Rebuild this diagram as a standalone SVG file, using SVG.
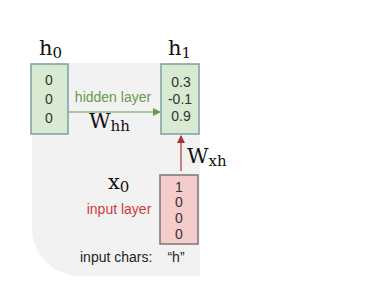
<svg xmlns="http://www.w3.org/2000/svg" width="384" height="294" viewBox="0 0 384 294">
<style>
.sans{font-family:"Liberation Sans",Arial,sans-serif;}
.num{font-family:"Liberation Sans",Arial,sans-serif;font-size:14px;fill:#333;text-anchor:middle;}
.green{fill:#d9ead3;stroke:#7c9ea6;stroke-width:1.5;}
.red{fill:#f4cccc;stroke:#777;stroke-width:1.5;}
.lbl{font-family:"DejaVu Serif","Liberation Serif",serif;font-size:21px;fill:#111;}
</style>
<defs>
<marker id="ag" markerWidth="8" markerHeight="8" refX="7" refY="4" orient="auto" markerUnits="userSpaceOnUse"><path d="M0,0 L8,4 L0,8 Z" fill="#6a9a4a"/></marker>
<marker id="ar" markerWidth="8" markerHeight="8" refX="7" refY="4" orient="auto" markerUnits="userSpaceOnUse"><path d="M0,0 L8,4 L0,8 Z" fill="#a33"/></marker>
</defs>
<path d="M32,63 H200 V276 H80 A48,48 0 0 1 32,228 Z" fill="#f2f2f2"/>
<g id="h0">
<rect class="green" x="31" y="64" width="37" height="70"/>
<text class="num" x="49" y="85">0</text>
<text class="num" x="49" y="104">0</text>
<text class="num" x="49" y="123">0</text>
<text class="lbl" x="39" y="55">h<tspan font-size="15" dy="3">0</tspan></text>
</g>
<g id="h1">
<rect class="green" x="161" y="64" width="38" height="70"/>
<text class="num" x="181" y="87">0.3</text>
<text class="num" x="180" y="104">-0.1</text>
<text class="num" x="181" y="121">0.9</text>
<text class="lbl" x="168" y="55">h<tspan font-size="15" dy="3">1</tspan></text>
</g>
<g id="x0">
<rect class="red" x="160" y="175" width="38" height="69"/>
<text class="num" x="179" y="192">1</text>
<text class="num" x="179" y="207">0</text>
<text class="num" x="179" y="223">0</text>
<text class="num" x="179" y="239">0</text>
<text class="lbl" x="108" y="189">x<tspan font-size="15" dy="3">0</tspan></text>
<text class="sans" x="119" y="214" font-size="14" fill="#cc3b3b" text-anchor="middle">input layer</text>
</g>
<g id="connectors">
<line x1="68" y1="112" x2="160" y2="112" stroke="#6a9a4a" stroke-width="1.2" marker-end="url(#ag)"/>
<line x1="181" y1="171" x2="181" y2="136" stroke="#a33" stroke-width="1.2" marker-end="url(#ar)"/>
</g>
<text class="sans" x="113" y="102" font-size="14" fill="#6a9a4a" text-anchor="middle">hidden layer</text>
<text class="lbl" x="89" y="128" font-size="20">W<tspan font-size="15" dy="3">hh</tspan></text>
<text class="lbl" x="187" y="163" font-size="20">W<tspan font-size="15" dy="3">xh</tspan></text>
<text class="sans" x="80" y="262" font-size="14" fill="#222">input chars:</text>
<text class="sans" x="176" y="262" font-size="14" fill="#222" text-anchor="middle">“h”</text>
</svg>
